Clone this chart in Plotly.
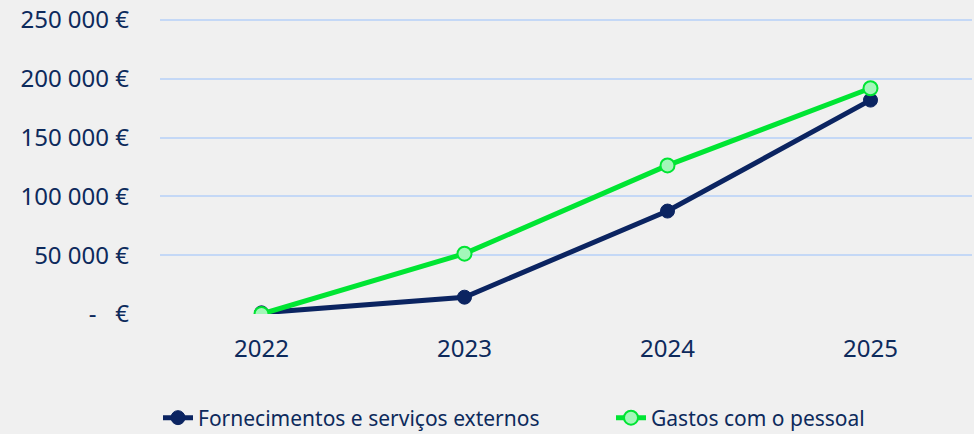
import plotly.graph_objects as go

years = ["2022", "2023", "2024", "2025"]
fornecimentos = [1000, 14300, 87500, 181800]
gastos = [0, 51300, 126300, 191900]
ytick_vals = [0, 50000, 100000, 150000, 200000, 250000]
ytick_text = ["-   €", "50 000 €", "100 000 €", "150 000 €", "200 000 €", "250 000 €"]

NAVY = "#0b2461"
GREEN = "#00e533"
TXT = "#0d2a5c"

fig = go.Figure()
fig.add_trace(go.Scatter(
    x=years, y=fornecimentos, name="Fornecimentos e serviços externos",
    mode="lines+markers", legend="legend",
    line=dict(color=NAVY, width=5),
    marker=dict(size=14, color=NAVY, line=dict(color=NAVY, width=1)),
))
fig.add_trace(go.Scatter(
    x=years, y=gastos, name="Gastos com o pessoal",
    mode="lines+markers", legend="legend2",
    line=dict(color=GREEN, width=5),
    marker=dict(size=14, color="#a3f7b9", line=dict(color=GREEN, width=2)),
))

leg_common = dict(orientation="h", xref="container", xanchor="left",
                  yref="container", y=1 - 418 / 434, yanchor="middle",
                  font=dict(size=21, color=TXT), bgcolor="rgba(0,0,0,0)")

fig.update_layout(
    width=974, height=434,
    paper_bgcolor="#f0f0f0", plot_bgcolor="#f0f0f0",
    margin=dict(l=160, r=2, t=11, b=120),
    font=dict(family="Noto Sans", color=TXT, size=20),
    showlegend=True,
    legend=dict(x=158 / 974, **leg_common),
    legend2=dict(x=611 / 974, **leg_common),
)
fig.update_xaxes(type="category", range=[-0.5, 3.5], showgrid=False, zeroline=False,
                 showline=False, tickfont=dict(size=24, color=TXT), ticks="",
                 ticklabelstandoff=18)
fig.update_yaxes(range=[0, 255000], tickvals=ytick_vals, ticktext=ytick_text,
                 showgrid=True, gridcolor="#c4d8f6", gridwidth=2, zeroline=False,
                 showline=False, tickfont=dict(size=24, color=TXT),
                 ticklabelstandoff=30, ticklabeloverflow="allow")

fig.write_html("out.html", config={"displayModeBar": False},
               post_script="document.body.style.margin='0';")
